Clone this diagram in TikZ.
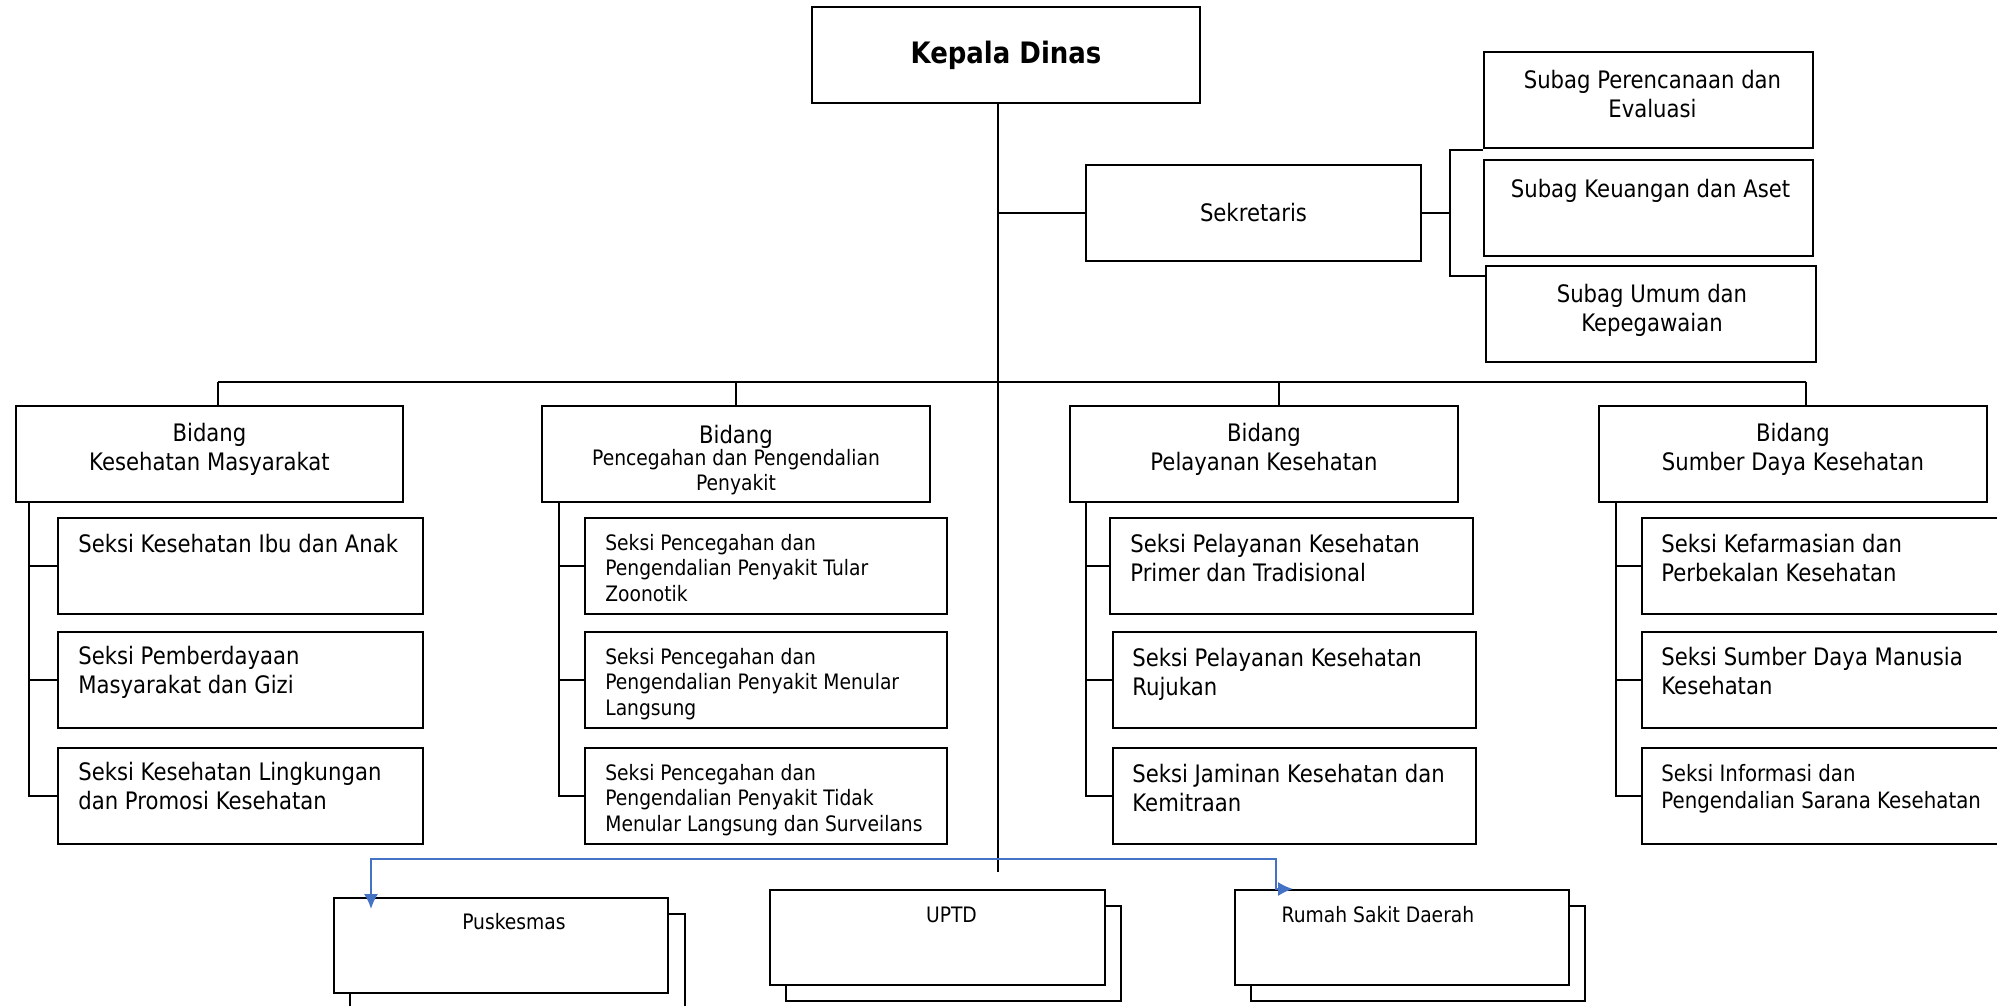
\documentclass[tikz,border=0pt]{standalone}
\usepackage{fontspec}
\setmainfont{DejaVu Sans}[FakeStretch=0.88]
\usepackage{tikz}
\usetikzlibrary{positioning,calc,arrows,arrows.meta}
\definecolor{lineblue}{HTML}{4472C4}
\newcommand{\txtn}{\fontsize{13.7}{16.5}\selectfont}
\newcommand{\txtm}{\fontsize{12.8}{15.6}\selectfont}
\newcommand{\txts}{\fontsize{12.1}{14.4}\selectfont}
\newcommand{\txtk}{\fontsize{16.8}{19}\selectfont\bfseries}

\begin{document}
\begin{tikzpicture}[x=0.02cm, y=-0.02cm,
    box/.style={draw, line width=1.1pt, fill=white, inner sep=0pt, anchor=north west},
    bx/.style 2 args={box, minimum width=#1*0.02cm, minimum height=#2*0.02cm},
    lbl/.style={inner sep=0pt, font=\txtn, execute at begin node=\strut},
    conn/.style={line width=1.1pt},
    bluearr/.style={draw=lineblue, line width=1.3pt, {Latex[length=8.5pt,width=8pt]}-{Latex[length=8.5pt,width=8pt]}}]
            \useasboundingbox (0,0) rectangle (1997,1006);
            \clip (0,0) rectangle (1997,1006);

            \node[bx={388}{96}, font=\txtk] (kepala) at (811,6) {Kepala Dinas};
            \node[bx={335}{96}, font=\txtn] (sekr) at (1085,164) {Sekretaris};

            \node[bx={329}{96}] (sub1) at (1483,51) {};
            \node[bx={329}{96}] (sub2) at (1483,159) {};
            \node[bx={330}{96}] (sub3) at (1485,265) {};
            \node[lbl, anchor=north, align=center] (sub1t) at ($(sub1.north)+(4,19)$) {Subag Perencanaan dan\\Evaluasi};
            \node[lbl, anchor=north] (sub2t) at ($(sub2.north)+(2,18)$) {Subag Keuangan dan Aset};
            \node[lbl, anchor=north, align=center] (sub3t) at ($(sub3.north)+(1,19)$) {Subag Umum dan\\Kepegawaian};

            \coordinate (trunkend) at (998,872);
            \draw[conn] (trunkend |- kepala.south) -- (trunkend);
            \draw[conn] (sekr.west) -- (sekr.west -| trunkend);

            \coordinate (brtop) at (1450,150);
            \coordinate (brbot) at (1450,276);
            \draw[conn] (sekr.east) -- (sekr.east -| brtop);
            \draw[conn] (brtop -| sub1.west) -- (brtop) -- (brbot) -- (brbot -| sub3.west);

            \node[bx={387}{96}] (bid1) at (15,405) {};
            \node[bx={388}{96}] (bid2) at (541,405) {};
            \node[bx={388}{96}] (bid3) at (1069,405) {};
            \node[bx={388}{96}] (bid4) at (1598,405) {};
            \node[lbl, anchor=north, align=center] (bid1t) at ($(bid1.north)+(0,18)$) {Bidang\\Kesehatan Masyarakat};
            \node[lbl, anchor=north] (bid2t) at ($(bid2.north)+(0,18)$) {Bidang};
            \node[lbl, anchor=north, align=center, font=\txts] (bid2s) at ($(bid2.north)+(0,44)$) {Pencegahan dan Pengendalian\\Penyakit};
            \node[lbl, anchor=north, align=center] (bid3t) at ($(bid3.north)+(0,18)$) {Bidang\\Pelayanan Kesehatan};
            \node[lbl, anchor=north, align=center] (bid4t) at ($(bid4.north)+(0,18)$) {Bidang\\Sumber Daya Kesehatan};

            \coordinate (d1) at (218,382);
            \coordinate (d2) at (736,382);
            \coordinate (d3) at (1279,382);
            \coordinate (d4) at (1806,382);
            \draw[conn] (d1) -- (d4);
            \draw[conn] (d1) -- (d1 |- bid1.north);
            \draw[conn] (d2) -- (d2 |- bid2.north);
            \draw[conn] (d3) -- (d3 |- bid3.north);
            \draw[conn] (d4) -- (d4 |- bid4.north);

            \node[bx={365}{96}] (s11) at (57,517) {};
            \node[bx={365}{96}] (s12) at (57,631) {};
            \node[bx={365}{96}] (s13) at (57,747) {};
            \node[lbl, anchor=north west] (s11t) at ($(s11.north west)+(21,15)$) {Seksi Kesehatan Ibu dan Anak};
            \node[lbl, anchor=north west, align=left] (s12t) at ($(s12.north west)+(21,15)$) {Seksi Pemberdayaan\\Masyarakat dan Gizi};
            \node[lbl, anchor=north west, align=left] (s13t) at ($(s13.north west)+(21,15)$) {Seksi Kesehatan Lingkungan\\dan Promosi Kesehatan};

            \node[bx={362}{96}] (s21) at (584,517) {};
            \node[bx={362}{96}] (s22) at (584,631) {};
            \node[bx={362}{96}] (s23) at (584,747) {};
            \node[lbl, anchor=north west, align=left, font=\txts] (s21t) at ($(s21.north west)+(21,17)$) {Seksi Pencegahan dan\\Pengendalian Penyakit Tular\\Zoonotik};
            \node[lbl, anchor=north west, align=left, font=\txts] (s22t) at ($(s22.north west)+(21,17)$) {Seksi Pencegahan dan\\Pengendalian Penyakit Menular\\Langsung};
            \node[lbl, anchor=north west, align=left, font=\txts] (s23t) at ($(s23.north west)+(21,17)$) {Seksi Pencegahan dan\\Pengendalian Penyakit Tidak\\Menular Langsung dan Surveilans};

            \node[bx={363}{96}] (s31) at (1109,517) {};
            \node[bx={363}{96}] (s32) at (1112,631) {};
            \node[bx={363}{96}] (s33) at (1112,747) {};
            \node[lbl, anchor=north west, align=left] (s31t) at ($(s31.north west)+(21,17)$) {Seksi Pelayanan Kesehatan\\Primer dan Tradisional};
            \node[lbl, anchor=north west, align=left] (s32t) at ($(s32.north west)+(20,17)$) {Seksi Pelayanan Kesehatan\\Rujukan};
            \node[lbl, anchor=north west, align=left] (s33t) at ($(s33.north west)+(20,17)$) {Seksi Jaminan Kesehatan dan\\Kemitraan};

            \node[bx={380}{96}] (s41) at (1641,517) {};
            \node[bx={380}{96}] (s42) at (1641,631) {};
            \node[bx={380}{96}] (s43) at (1641,747) {};
            \node[lbl, anchor=north west, align=left] (s41t) at ($(s41.north west)+(20,17)$) {Seksi Kefarmasian dan\\Perbekalan Kesehatan};
            \node[lbl, anchor=north west, align=left] (s42t) at ($(s42.north west)+(20,16)$) {Seksi Sumber Daya Manusia\\Kesehatan};
            \node[lbl, anchor=north west, align=left, font=\txtm] (s43t) at ($(s43.north west)+(20,17)$) {Seksi Informasi dan\\Pengendalian Sarana Kesehatan};

            \coordinate (v1) at ($(bid1.south west)+(14,0)$);
            \coordinate (v2) at ($(bid2.south west)+(18,0)$);
            \coordinate (v3) at ($(bid3.south west)+(17,0)$);
            \coordinate (v4) at ($(bid4.south west)+(18,0)$);
            \draw[conn] (v1) |- (s13.west);
            \draw[conn] (v1 |- s11.west) -- (s11.west);
            \draw[conn] (v1 |- s12.west) -- (s12.west);
            \draw[conn] (v2) |- (s23.west);
            \draw[conn] (v2 |- s21.west) -- (s21.west);
            \draw[conn] (v2 |- s22.west) -- (s22.west);
            \draw[conn] (v3) |- (s33.west);
            \draw[conn] (v3 |- s31.west) -- (s31.west);
            \draw[conn] (v3 |- s32.west) -- (s32.west);
            \draw[conn] (v4) |- (s43.west);
            \draw[conn] (v4 |- s41.west) -- (s41.west);
            \draw[conn] (v4 |- s42.west) -- (s42.west);

            \node[bx={335}{95}] (pusk2) at (349,913) {};
            \node[bx={334}{95}] (pusk) at (333,897) {};
            \node[bx={335}{95}] (uptd2) at (785,905) {};
            \node[bx={335}{95}] (uptd) at (769,889) {};
            \node[bx={334}{95}] (rs2) at (1250,905) {};
            \node[bx={334}{95}] (rs) at (1234,889) {};
            \node[lbl, anchor=north, font=\txts] (puskt) at ($(pusk.north)+(13,14)$) {Puskesmas};
            \node[lbl, anchor=north, font=\txts] (uptdt) at ($(uptd.north)+(14,15)$) {UPTD};
            \node[lbl, anchor=north, font=\txts] (rst) at ($(rs.north)+(-24,15)$) {Rumah Sakit Daerah};

            \coordinate (bl) at (371,859);
            \coordinate (br) at (1276,859);
            \coordinate (ptip) at (371,909);
            \coordinate (rtip) at (1293,889);
            \draw[bluearr] (ptip) -- (bl) -- (br) |- (rtip);
        \end{tikzpicture}
\end{document}
